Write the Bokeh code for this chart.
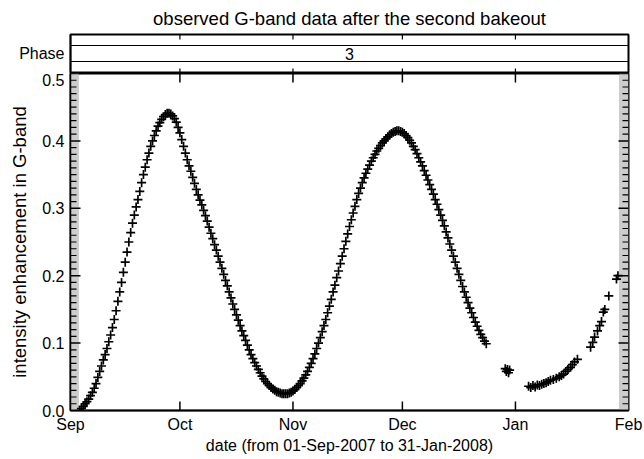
from bokeh.plotting import figure
from bokeh.layouts import column
from bokeh.models import (Range1d, FixedTicker, LinearAxis, Span, ColumnDataSource,
                          PrintfTickFormatter)
from bokeh.core.properties import value
from bokeh.embed import file_html
from bokeh.resources import INLINE

# ---------------- data ----------------
# x: days since 01-Sep-2007
month_days = [0, 30, 61, 91, 122, 153]
month_labels = ["Sep", "Oct", "Nov", "Dec", "Jan", "Feb"]
y_ticks = [0.0, 0.1, 0.2, 0.3, 0.4, 0.5]
phase_name = "Phase"
phase_value = "3"
title_text = "observed G-band data after the second bakeout"
x_title = "date (from 01-Sep-2007 to 31-Jan-2008)"
y_title = "intensity enhancement in G-band"

# shaded (no-data) intervals at both ends, in days
shade_left = [0.0, 2.3]
shade_right = [150.4, 153.0]

obs_day = [
    2.5, 3.0, 3.5, 4.0, 4.5, 5.0, 5.5, 6.0, 6.5, 7.0, 7.5, 8.0, 8.5, 9.0, 9.5, 10.0,
    10.5, 11.0, 11.5, 12.0, 12.5, 13.0, 13.5, 14.0, 14.5, 15.0, 15.5, 16.0, 16.5, 17.0,
    17.5, 18.0, 18.5, 19.0, 19.5, 20.0, 20.5, 21.0, 21.5, 22.0, 22.5, 23.0, 23.5, 24.0,
    24.5, 25.0, 25.5, 26.0, 26.5, 27.0, 27.5, 28.0, 28.5, 29.0, 29.5, 30.0, 30.5, 31.0,
    31.5, 32.0, 32.5, 33.0, 33.5, 34.0, 34.5, 35.0, 35.5, 36.0, 36.5, 37.0, 37.5, 38.0,
    38.5, 39.0, 39.5, 40.0, 40.5, 41.0, 41.5, 42.0, 42.5, 43.0, 43.5, 44.0, 44.5, 45.0,
    45.5, 46.0, 46.5, 47.0, 47.5, 48.0, 48.5, 49.0, 49.5, 50.0, 50.5, 51.0, 51.5, 52.0,
    52.5, 53.0, 53.5, 54.0, 54.5, 55.0, 55.5, 56.0, 56.5, 57.0, 57.5, 58.0, 58.5, 59.0,
    59.5, 60.0, 60.5, 61.0, 61.5, 62.0, 62.5, 63.0, 63.5, 64.0, 64.5, 65.0, 65.5, 66.0,
    66.5, 67.0, 67.5, 68.0, 68.5, 69.0, 69.5, 70.0, 70.5, 71.0, 71.5, 72.0, 72.5, 73.0,
    73.5, 74.0, 74.5, 75.0, 75.5, 76.0, 76.5, 77.0, 77.5, 78.0, 78.5, 79.0, 79.5, 80.0,
    80.5, 81.0, 81.5, 82.0, 82.5, 83.0, 83.5, 84.0, 84.5, 85.0, 85.5, 86.0, 86.5, 87.0,
    87.5, 88.0, 88.5, 89.0, 89.5, 90.0, 90.5, 91.0, 91.5, 92.0, 92.5, 93.0, 93.5, 94.0,
    94.5, 95.0, 95.5, 96.0, 96.5, 97.0, 97.5, 98.0, 98.5, 99.0, 99.5, 100.0, 100.5, 101.0,
    101.5, 102.0, 102.5, 103.0, 103.5, 104.0, 104.5, 105.0, 105.5, 106.0, 106.5, 107.0,
    107.5, 108.0, 108.5, 109.0, 109.5, 110.0, 110.5, 111.0, 111.5, 112.0, 112.5, 113.0,
    113.5, 114.0,
    119.2, 119.5, 119.8, 120.1, 120.4,
    125.6, 126.2, 126.8, 127.4, 128.0, 128.6, 129.2, 129.8, 130.4, 131.0, 131.6, 132.4,
    133.2, 134.0, 134.6, 135.2, 135.8, 136.4, 137.1, 137.6, 138.2, 139.0,
    142.6, 143.2, 143.7, 144.5, 145.1, 145.6, 146.1, 146.5, 147.6, 149.7, 150.1,
]

obs_value = [
    0.000, 0.003, 0.006, 0.010, 0.013, 0.017, 0.022, 0.027, 0.033, 0.040, 0.049, 0.058, 0.066, 0.075, 0.083, 0.092,
    0.102, 0.112, 0.123, 0.135, 0.148, 0.162, 0.176, 0.190, 0.205, 0.220, 0.235, 0.250, 0.264, 0.278,
    0.290, 0.302, 0.313, 0.325, 0.338, 0.350, 0.361, 0.372, 0.382, 0.392, 0.400, 0.408, 0.415, 0.422,
    0.427, 0.432, 0.436, 0.439, 0.441, 0.441, 0.440, 0.437, 0.433, 0.428, 0.420, 0.412, 0.402, 0.392,
    0.382, 0.372, 0.363, 0.355, 0.346, 0.337, 0.328, 0.320, 0.312, 0.305, 0.297, 0.289, 0.281, 0.272,
    0.263, 0.255, 0.246, 0.238, 0.229, 0.220, 0.211, 0.202, 0.193, 0.185, 0.176, 0.167, 0.158, 0.150,
    0.142, 0.134, 0.126, 0.118, 0.111, 0.104, 0.097, 0.090, 0.083, 0.077, 0.071, 0.066, 0.061, 0.056,
    0.051, 0.047, 0.043, 0.040, 0.037, 0.034, 0.032, 0.030, 0.028, 0.027, 0.026, 0.025, 0.025, 0.025,
    0.025, 0.026, 0.027, 0.029, 0.031, 0.034, 0.037, 0.040, 0.044, 0.048, 0.053, 0.058, 0.064, 0.070,
    0.077, 0.084, 0.092, 0.100, 0.108, 0.117, 0.126, 0.135, 0.145, 0.155, 0.165, 0.176, 0.186, 0.197,
    0.207, 0.218, 0.229, 0.240, 0.251, 0.262, 0.273, 0.283, 0.293, 0.303, 0.313, 0.322, 0.330, 0.338,
    0.345, 0.352, 0.358, 0.364, 0.370, 0.375, 0.380, 0.385, 0.389, 0.393, 0.397, 0.400, 0.403, 0.406,
    0.409, 0.411, 0.413, 0.414, 0.415, 0.415, 0.414, 0.413, 0.411, 0.408, 0.405, 0.401, 0.397, 0.392,
    0.387, 0.381, 0.375, 0.369, 0.363, 0.356, 0.349, 0.342, 0.335, 0.328, 0.321, 0.313, 0.306, 0.298,
    0.290, 0.282, 0.274, 0.265, 0.256, 0.247, 0.238, 0.229, 0.220, 0.211, 0.202, 0.193,
    0.184, 0.176, 0.168, 0.160, 0.152, 0.145, 0.138, 0.131, 0.125, 0.119, 0.113, 0.108,
    0.103, 0.099,
    0.062, 0.058, 0.061, 0.056, 0.060,
    0.036, 0.034, 0.037, 0.035, 0.038, 0.037, 0.039, 0.040, 0.041, 0.043, 0.045, 0.046,
    0.048, 0.050, 0.052, 0.054, 0.058, 0.061, 0.064, 0.068, 0.072, 0.076,
    0.094, 0.101, 0.109, 0.118, 0.126, 0.132, 0.146, 0.150, 0.170, 0.195, 0.200,
]

# ---------------- layout constants ----------------
FONT = "Liberation Sans"
BORDER_L, BORDER_R = 70, 16
FRAME_W = 558
FIG_W = BORDER_L + FRAME_W + BORDER_R
PH_TOP, PH_H = 34, 39          # phase box
MAIN_H, MAIN_BOTTOM = 337, 49  # data panel
PX_PER_DAY = FRAME_W / (month_days[-1] - month_days[0])
PX_PER_UNIT = MAIN_H / (y_ticks[-1] - y_ticks[0])

x_range = Range1d(month_days[0], month_days[-1])
inner_months = month_days[1:-1]

# ================= phase panel =================
ph = figure(width=FIG_W, height=PH_TOP + PH_H, x_range=x_range, y_range=Range1d(0, PH_H),
            output_backend="svg", toolbar_location=None, x_axis_type=None, y_axis_type=None,
            min_border=0, min_border_left=BORDER_L, min_border_right=BORDER_R,
            min_border_top=PH_TOP, min_border_bottom=0)
ph.outline_line_color = "black"
ph.outline_line_width = 2
ph.background_fill_color = "white"
ph.border_fill_color = "white"

ph.title.text = title_text
ph.title.align = "center"
ph.title.text_font = FONT
ph.title.text_font_size = "18.5px"
ph.title.text_font_style = "normal"
ph.title.text_color = "black"
ph.title.standoff = 11

ph_axis = LinearAxis(ticker=FixedTicker(ticks=[20]))
ph_axis.major_label_overrides = {20: phase_name}
ph_axis.major_tick_in = 0
ph_axis.major_tick_out = 0
ph_axis.minor_tick_line_color = None
ph_axis.axis_line_color = "black"
ph_axis.axis_line_width = 1.5
ph_axis.major_label_text_font = FONT
ph_axis.major_label_text_font_size = "16px"
ph_axis.major_label_text_color = "black"
ph_axis.major_label_standoff = 6
ph.add_layout(ph_axis, "left")

ph.add_layout(Span(location=12, dimension="width", line_color="black", line_width=1))
ph.add_layout(Span(location=28, dimension="width", line_color="black", line_width=1))
n = len(inner_months)
ph.segment(x0=inner_months, x1=inner_months, y0=[PH_H] * n, y1=[PH_H - 5] * n,
           line_color="black", line_width=1.2)
ph.segment(x0=inner_months, x1=inner_months, y0=[0] * n, y1=[5] * n,
           line_color="black", line_width=1.2)
ph.text(x=[(month_days[0] + month_days[-1]) / 2], y=[20], text=[phase_value],
        text_align="center", text_baseline="middle", text_font=value(FONT),
        text_font_size="16px", text_color="black")

# ================= data panel =================
p = figure(width=FIG_W, height=MAIN_H + MAIN_BOTTOM, x_range=x_range,
           y_range=Range1d(y_ticks[0], y_ticks[-1]),
           output_backend="svg", toolbar_location=None, x_axis_type=None, y_axis_type=None,
           min_border=0, min_border_left=BORDER_L, min_border_right=BORDER_R,
           min_border_top=0, min_border_bottom=MAIN_BOTTOM)
p.outline_line_color = "black"
p.outline_line_width = 2
p.background_fill_color = "white"
p.border_fill_color = "white"

# gray shaded ends
p.quad(left=[shade_left[0], shade_right[0]], right=[shade_left[1], shade_right[1]],
       bottom=[y_ticks[0]] * 2, top=[y_ticks[-1]] * 2,
       fill_color="#cccccc", line_color=None)

xb = LinearAxis(ticker=FixedTicker(ticks=month_days), axis_label=x_title)
xb.major_label_overrides = {d: m for d, m in zip(month_days, month_labels)}
xb.major_tick_in = 0
xb.major_tick_out = 0
xb.minor_tick_line_color = None
xb.axis_line_color = "black"
xb.axis_line_width = 1.5
xb.major_label_text_font = FONT
xb.major_label_text_font_size = "16px"
xb.major_label_text_color = "black"
xb.major_label_standoff = 5
xb.axis_label_text_font = FONT
xb.axis_label_text_font_size = "16px"
xb.axis_label_text_font_style = "normal"
xb.axis_label_text_color = "black"
xb.axis_label_standoff = 1
p.add_layout(xb, "below")

yl = LinearAxis(ticker=FixedTicker(ticks=y_ticks), formatter=PrintfTickFormatter(format="%.1f"),
                axis_label=y_title)
yl.major_tick_in = 0
yl.major_tick_out = 0
yl.minor_tick_line_color = None
yl.axis_line_color = "black"
yl.axis_line_width = 1.5
yl.major_label_text_font = FONT
yl.major_label_text_font_size = "16px"
yl.major_label_text_color = "black"
yl.major_label_standoff = 6
yl.axis_label_text_font = FONT
yl.axis_label_text_font_size = "18.5px"
yl.axis_label_text_font_style = "normal"
yl.axis_label_text_color = "black"
yl.axis_label_standoff = 9
p.add_layout(yl, "left")

# tick marks, drawn inward
minor_y = [round(0.01 * i, 2) for i in range(1, 50) if i % 10 != 0]
maj_dx = 10 / PX_PER_DAY
min_dx = 6 / PX_PER_DAY
x0, x1 = month_days[0], month_days[-1]
p.segment(x0=[x0] * len(y_ticks), x1=[x0 + maj_dx] * len(y_ticks), y0=y_ticks, y1=y_ticks,
          line_color="black", line_width=1.5)
p.segment(x0=[x0] * len(minor_y), x1=[x0 + min_dx] * len(minor_y), y0=minor_y, y1=minor_y,
          line_color="black", line_width=1.2)
p.segment(x0=[x1] * len(y_ticks), x1=[x1 - maj_dx] * len(y_ticks), y0=y_ticks, y1=y_ticks,
          line_color="black", line_width=1.5)
p.segment(x0=[x1] * len(minor_y), x1=[x1 - min_dx] * len(minor_y), y0=minor_y, y1=minor_y,
          line_color="black", line_width=1.2)
tick_dy = 9 / PX_PER_UNIT
p.segment(x0=inner_months, x1=inner_months, y0=[y_ticks[0]] * n, y1=[y_ticks[0] + tick_dy] * n,
          line_color="black", line_width=1.5)
p.segment(x0=inner_months, x1=inner_months, y0=[y_ticks[-1]] * n, y1=[y_ticks[-1] - tick_dy] * n,
          line_color="black", line_width=1.5)

src = ColumnDataSource(data=dict(day=obs_day, val=obs_value))
p.scatter("day", "val", source=src, marker="cross", size=9, line_color="black", line_width=1.7)

layout = column(ph, p, spacing=0)
open("out.html", "w").write(file_html(layout, INLINE))
